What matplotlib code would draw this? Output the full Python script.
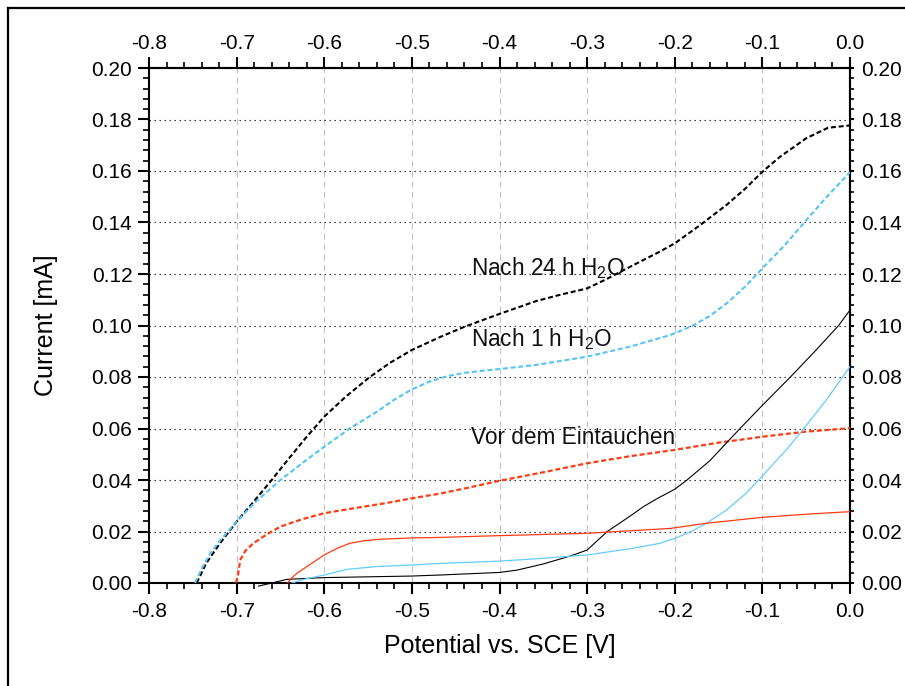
import matplotlib
matplotlib.use('Agg')
import matplotlib.pyplot as plt
import matplotlib.ticker as ticker
from matplotlib.lines import Line2D

plt.rcParams.update({'font.family': ['Liberation Sans', 'DejaVu Sans'],
                     'mathtext.default': 'regular',
                     'axes.unicode_minus': False,
                     'lines.scale_dashes': False})

# --- data (potential in V, current in mA) ---
x_24h_dash = [-0.7456, -0.735, -0.719, -0.700, -0.680, -0.660, -0.640, -0.620, -0.600,
              -0.575, -0.548, -0.525, -0.500, -0.468, -0.440, -0.400, -0.358, -0.330,
              -0.300, -0.278, -0.251, -0.217, -0.200, -0.171, -0.141, -0.120, -0.100,
              -0.080, -0.050, -0.025, 0.0]
y_24h_dash = [0.0, 0.0075, 0.0154, 0.0238, 0.0318, 0.040, 0.0485, 0.0568, 0.0646,
              0.0725, 0.080, 0.0855, 0.0905, 0.0955, 0.0995, 0.1045, 0.1095, 0.112,
              0.1144, 0.1180, 0.1228, 0.1287, 0.1319, 0.139, 0.1468, 0.1530, 0.1597,
              0.1655, 0.1727, 0.1768, 0.1777]

x_1h_dash = [-0.7475, -0.740, -0.730, -0.719, -0.700, -0.680, -0.650, -0.625, -0.600,
             -0.571, -0.540, -0.520, -0.500, -0.480, -0.460, -0.440, -0.420, -0.400,
             -0.358, -0.300, -0.251, -0.205, -0.179, -0.160, -0.140, -0.120, -0.100,
             -0.075, -0.053, -0.027, 0.0]
y_1h_dash = [0.0, 0.0055, 0.0115, 0.0165, 0.0238, 0.031, 0.040, 0.0466, 0.0529,
             0.060, 0.0665, 0.0712, 0.0752, 0.0782, 0.0803, 0.0816, 0.0824, 0.0831,
             0.0847, 0.0879, 0.0918, 0.0963, 0.1000, 0.1037, 0.1088, 0.1150, 0.1222,
             0.131, 0.1397, 0.1498, 0.1595]

x_vor_dash = [-0.7007, -0.698, -0.696, -0.690, -0.681, -0.665, -0.650, -0.625, -0.600,
              -0.567, -0.530, -0.500, -0.468, -0.440, -0.400, -0.350, -0.300, -0.250,
              -0.200, -0.150, -0.100, -0.050, 0.0]
y_vor_dash = [0.0, 0.004, 0.0089, 0.0125, 0.0154, 0.019, 0.0219, 0.0248, 0.0271,
              0.029, 0.031, 0.0329, 0.0347, 0.0367, 0.0397, 0.043, 0.0465, 0.0493,
              0.0517, 0.0545, 0.0568, 0.0588, 0.0601]

x_vor_solid = [-0.642, -0.637, -0.631, -0.615, -0.600, -0.585, -0.571, -0.555, -0.536,
               -0.500, -0.468, -0.400, -0.300, -0.205, -0.164, -0.100, -0.046, 0.0]
y_vor_solid = [0.0, 0.002, 0.0038, 0.0075, 0.0109, 0.0135, 0.0154, 0.0164, 0.0170,
               0.0175, 0.0177, 0.0184, 0.0193, 0.0212, 0.0232, 0.0255, 0.0268, 0.0277]

x_1h_solid = [-0.637, -0.620, -0.600, -0.574, -0.540, -0.500, -0.468, -0.400, -0.350,
              -0.300, -0.251, -0.217, -0.200, -0.182, -0.164, -0.141, -0.118, -0.100,
              -0.072, -0.053, -0.027, 0.0]
y_1h_solid = [0.0, 0.0017, 0.0031, 0.0053, 0.0064, 0.0070, 0.0076, 0.0085, 0.0096,
              0.0109, 0.0133, 0.0154, 0.0173, 0.0199, 0.0232, 0.0283, 0.0350, 0.0416,
              0.0520, 0.0598, 0.0711, 0.0840]

x_24h_solid = [-0.675, -0.660, -0.643, -0.600, -0.500, -0.468, -0.400, -0.380, -0.350,
               -0.319, -0.300, -0.277, -0.250, -0.236, -0.220, -0.200, -0.186, -0.160,
               -0.1255, -0.100, -0.068, -0.040, -0.013, 0.0]
y_24h_solid = [-0.0012, 0.0, 0.0014, 0.0021, 0.0027, 0.0031, 0.0041, 0.0050, 0.0074,
               0.0105, 0.0128, 0.0200, 0.0262, 0.0296, 0.0328, 0.0364, 0.0400, 0.0475,
               0.0600, 0.0690, 0.0800, 0.0900, 0.1000, 0.1060]

labels = ['Nach 24 h H$_2$O', 'Nach 1 h H$_2$O', 'Vor dem Eintauchen']
label_x = [-0.4325, -0.4325, -0.4325]
label_y = [0.1196, 0.0920, 0.0540]

black = 'black'
blue = '#55c4f5'
red = '#ff3a12'

fig = plt.figure(figsize=(9.05, 6.86), dpi=100)
ax = fig.add_axes([149/905, 103/686, 701/905, 515/686])

dash = (3.6, 2.0)
ax.plot(x_24h_dash, y_24h_dash, color=black, lw=1.5, dashes=dash, zorder=3)
ax.plot(x_1h_dash, y_1h_dash, color=blue, lw=1.5, dashes=dash, zorder=3)
ax.plot(x_vor_dash, y_vor_dash, color=red, lw=1.6, dashes=dash, zorder=3)
ax.plot(x_24h_solid, y_24h_solid, color=black, lw=0.8, zorder=3, clip_on=False)
ax.plot(x_1h_solid, y_1h_solid, color='#66ccff', lw=0.9, zorder=3)
ax.plot(x_vor_solid, y_vor_solid, color=red, lw=0.9, zorder=3)

for t, xx, yy in zip(labels, label_x, label_y):
    ax.text(xx, yy, t, fontsize=16.3, ha='left', va='baseline', color='#111111')

ax.set_xlim(-0.8, 0.0)
ax.set_ylim(0.0, 0.2)


def style_x(a):
    a.xaxis.set_major_locator(ticker.MultipleLocator(0.1))
    a.xaxis.set_minor_locator(ticker.MultipleLocator(0.02))
    a.xaxis.set_major_formatter(ticker.FormatStrFormatter('%.1f'))


def style_y(a):
    a.yaxis.set_major_locator(ticker.MultipleLocator(0.02))
    a.yaxis.set_minor_locator(ticker.MultipleLocator(0.004))
    a.yaxis.set_major_formatter(ticker.FormatStrFormatter('%.2f'))


style_x(ax)
style_y(ax)

# grid: vertical dashed grey, horizontal dotted black
for xv in [-0.7, -0.6, -0.5, -0.4, -0.3, -0.2, -0.1]:
    ax.axvline(xv, color='#c4c4c4', lw=0.8, dashes=(4.5, 3.0), zorder=1)
for yv in [0.02, 0.04, 0.06, 0.08, 0.10, 0.12, 0.14, 0.16, 0.18]:
    ax.axhline(yv, color='#222222', lw=0.8, dashes=(1.0, 2.6), zorder=1)

for spine in ax.spines.values():
    spine.set_linewidth(1.5)

ax.tick_params(which='both', direction='out', top=False, right=False, labelsize=15)
ax.tick_params(which='major', length=8, width=1.5)
ax.tick_params(which='minor', length=4, width=1.2)
ax.tick_params(axis='y', which='major', pad=4)
ax.tick_params(axis='x', which='major', pad=6)

# top axis
top = ax.secondary_xaxis('top')
style_x(top)
top.spines['top'].set_linewidth(1.5)
top.tick_params(which='both', direction='out', labelsize=15)
top.tick_params(which='major', length=8, width=1.5, pad=3)
top.tick_params(which='minor', length=4, width=1.2)

# right axis (short ticks)
right = ax.secondary_yaxis('right')
style_y(right)
right.spines['right'].set_linewidth(1.5)
right.tick_params(which='both', direction='out', labelsize=15)
right.tick_params(which='major', length=3, width=1.5, pad=5)
right.tick_params(which='minor', length=3, width=1.2)

ax.set_xlabel('Potential vs. SCE [V]', fontsize=18)
ax.set_ylabel('Current [mA]', fontsize=18)
ax.xaxis.set_label_coords(0.5, -0.1)
ax.yaxis.set_label_coords(-0.13, 0.5)

# frame round the figure (only top and left edges fall inside the image)
fig.add_artist(Line2D([8/905, 1.0], [1 - 8/686, 1 - 8/686], transform=fig.transFigure,
                      color='black', lw=1.6))
fig.add_artist(Line2D([8/905, 8/905], [0.0, 1 - 8/686], transform=fig.transFigure,
                      color='black', lw=1.6))

fig.savefig('out.png', dpi=100)
